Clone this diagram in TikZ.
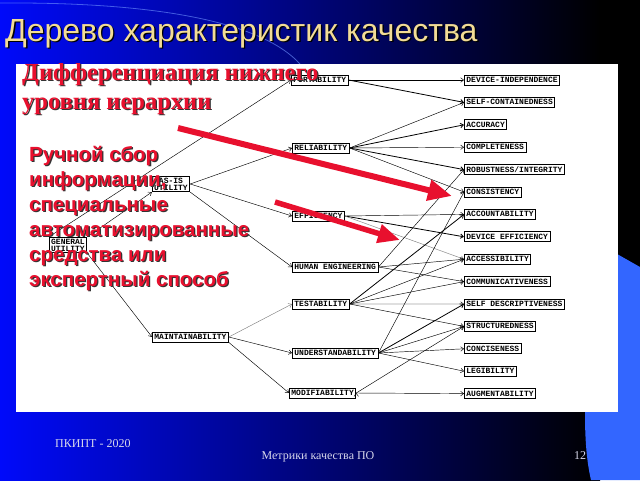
\documentclass[tikz,border=0pt]{standalone}
\usepackage{fontspec}
\setmainfont{Liberation Serif}
\setsansfont{Liberation Sans}
\setmonofont{Liberation Mono}
\usepackage{tikz}
\usetikzlibrary{positioning, arrows.meta}

\definecolor{slideblue}{RGB}{0,10,250}
\definecolor{slidenavy}{RGB}{0,0,150}
\definecolor{lightblue}{RGB}{51,102,255}
\definecolor{titlegold}{RGB}{242,220,150}
\definecolor{notered}{RGB}{232,16,46}
\definecolor{footgray}{RGB}{215,215,235}

% text with a drop shadow
\newcommand{\txtshadow}[2][black]{\leavevmode\rlap{\hspace{1.3pt}\raisebox{-1.3pt}{\color{#1}#2}}#2}

\begin{document}
\begin{tikzpicture}[x=1pt, y=-1pt,
  crit node/.style={draw, line width=0.8pt, font=\ttfamily\bfseries\fontsize{8}{7}\selectfont,
    inner xsep=2pt, inner ysep=1.5pt},
  mid node/.style={crit node, anchor=west, text height=5.5pt, text depth=0.5pt, minimum height=10pt},
  leaf node/.style={mid node, below right=11.6pt and 0pt of #1, anchor=north west},
  link/.style={draw, line width=0.45pt, -{Straight Barb[length=3pt,width=4.5pt]}},
  note/.style={text=notered, align=left, anchor=north west, inner sep=0pt},
  foot/.style={text=footgray, font=\rmfamily\fontsize{12}{14}\selectfont, inner sep=0pt}]

\useasboundingbox (0,0) rectangle (640,480);

% slide background
\fill[black] (0,0) rectangle (640,480);
\shade[left color=slideblue, middle color=slidenavy, right color=black] (0,0) rectangle (600,480);
\draw[lightblue!70!white, opacity=0.6, line width=0.8pt] (0,3) .. controls (150,2) and (260,20) .. (300,64);
\fill[lightblue] (610,250) -- (640,267) -- (640,480) -- (591,480) .. controls (579,430) and (585,330) .. (610,250) -- cycle;
\fill[white] (16,64) rectangle (618,412);

\node[anchor=base west, inner sep=0pt, text=titlegold, font=\sffamily\fontsize{32}{38}\selectfont]
  (title) at (5,41) {\txtshadow{Дерево характеристик качества}};

% tree
\node[crit node, align=center] (gen) at (68,245) {GENERAL\\UTILITY};
\node[crit node, align=center] (asis) at (171,184) {AS-IS\\UTILITY};
\node[mid node] (maint) at (152,337) {MAINTAINABILITY};

\node[mid node] (port) at (291,80) {PORTABILITY};
\node[mid node] (rel) at (292,148) {RELIABILITY};
\node[mid node] (eff) at (292,216) {EFFICIENCY};
\node[mid node] (he) at (292,267) {HUMAN ENGINEERING};
\node[mid node] (test) at (292,304) {TESTABILITY};
\node[mid node] (und) at (292,353) {UNDERSTANDABILITY};
\node[mid node] (mod) at (289,393) {MODIFIABILITY};

\node[mid node] (dind) at (464,80) {DEVICE-INDEPENDENCE};
\node[leaf node=dind.south west] (selfc) {SELF-CONTAINEDNESS};
\node[leaf node=selfc.south west] (acc) {ACCURACY};
\node[leaf node=acc.south west] (compl) {COMPLETENESS};
\node[leaf node=compl.south west] (rob) {ROBUSTNESS/INTEGRITY};
\node[leaf node=rob.south west] (cons) {CONSISTENCY};
\node[leaf node=cons.south west] (acct) {ACCOUNTABILITY};
\node[leaf node=acct.south west] (deff) {DEVICE EFFICIENCY};
\node[leaf node=deff.south west] (acs) {ACCESSIBILITY};
\node[leaf node=acs.south west] (comm) {COMMUNICATIVENESS};
\node[leaf node=comm.south west] (selfd) {SELF DESCRIPTIVENESS};
\node[leaf node=selfd.south west] (struc) {STRUCTUREDNESS};
\node[leaf node=struc.south west] (conc) {CONCISENESS};
\node[leaf node=conc.south west] (leg) {LEGIBILITY};
\node[leaf node=leg.south west] (aug) {AUGMENTABILITY};

\path[link]
(gen.north west) edge (port.west)
(gen.north east) edge (asis.south west)
(gen.south east) edge (maint.west)
(asis.east) edge (rel.west)
(asis.east) edge (eff.west)
(asis.south east) edge (he.west)
(maint.east) edge[gray] (test.west)
(maint.east) edge (und.west)
(maint.south east) edge (mod.west)
(port.east) edge (dind.west)
(port.east) edge[line width=0.8pt] (selfc.west)
(rel.east) edge (selfc.west)
(rel.east) edge[line width=0.8pt] (acc.west)
(rel.east) edge (compl.west)
(rel.east) edge[line width=0.8pt] (rob.west)
(rel.east) edge (cons.west)
(eff.east) edge (acct.west)
(eff.east) edge[line width=0.8pt] (deff.west)
(eff.east) edge[gray] (acs.west)
(he.east) edge (rob.west)
(he.east) edge (acs.west)
(he.east) edge (comm.west)
(test.east) edge[line width=0.8pt] (acct.west)
(test.east) edge (acs.west)
(test.east) edge (comm.west)
(test.east) edge (selfd.west)
(test.east) edge (struc.west)
(und.east) edge (cons.west)
(und.east) edge[line width=0.8pt] (selfd.west)
(und.east) edge (struc.west)
(und.east) edge (conc.west)
(und.east) edge (leg.west)
(mod.east) edge (struc.west)
(mod.east) edge (aug.west)
;

% red remarks
\node[note, font=\rmfamily\bfseries\fontsize{24.5}{29}\selectfont] (diff) at (22,63)
  {\txtshadow[black!80]{Дифференциация нижнего}\\ \txtshadow[black!80]{уровня иерархии}};
\node[note, font=\sffamily\bfseries\fontsize{20.5}{25}\selectfont] (manual) at (29,146)
  {\txtshadow[black!80]{Ручной сбор}\\ \txtshadow[black!80]{информации,}\\
   \txtshadow[black!80]{специальные}\\ \txtshadow[black!80]{автоматизированные}\\
   \txtshadow[black!80]{средства или}\\ \txtshadow[black!80]{экспертный способ}};

\coordinate (tail1) at (178,128);
\coordinate (tip1) at (452,196);
\coordinate (tail2) at (275,202);
\coordinate (tip2) at (400,240);
\draw[notered, line width=6pt, -{Triangle[length=24pt,width=20pt]}] (tail1) -- (tip1);
\draw[notered, line width=5.5pt, -{Triangle[length=22pt,width=18pt]}] (tail2) -- (tip2);

% footer
\node[foot, anchor=base west] (org) at (55,447) {ПКИПТ - 2020};
\node[foot, anchor=base] (topic) at (318,459) {Метрики качества ПО};
\node[foot, anchor=base] (page) at (580,459) {12};

\end{tikzpicture}
\end{document}
